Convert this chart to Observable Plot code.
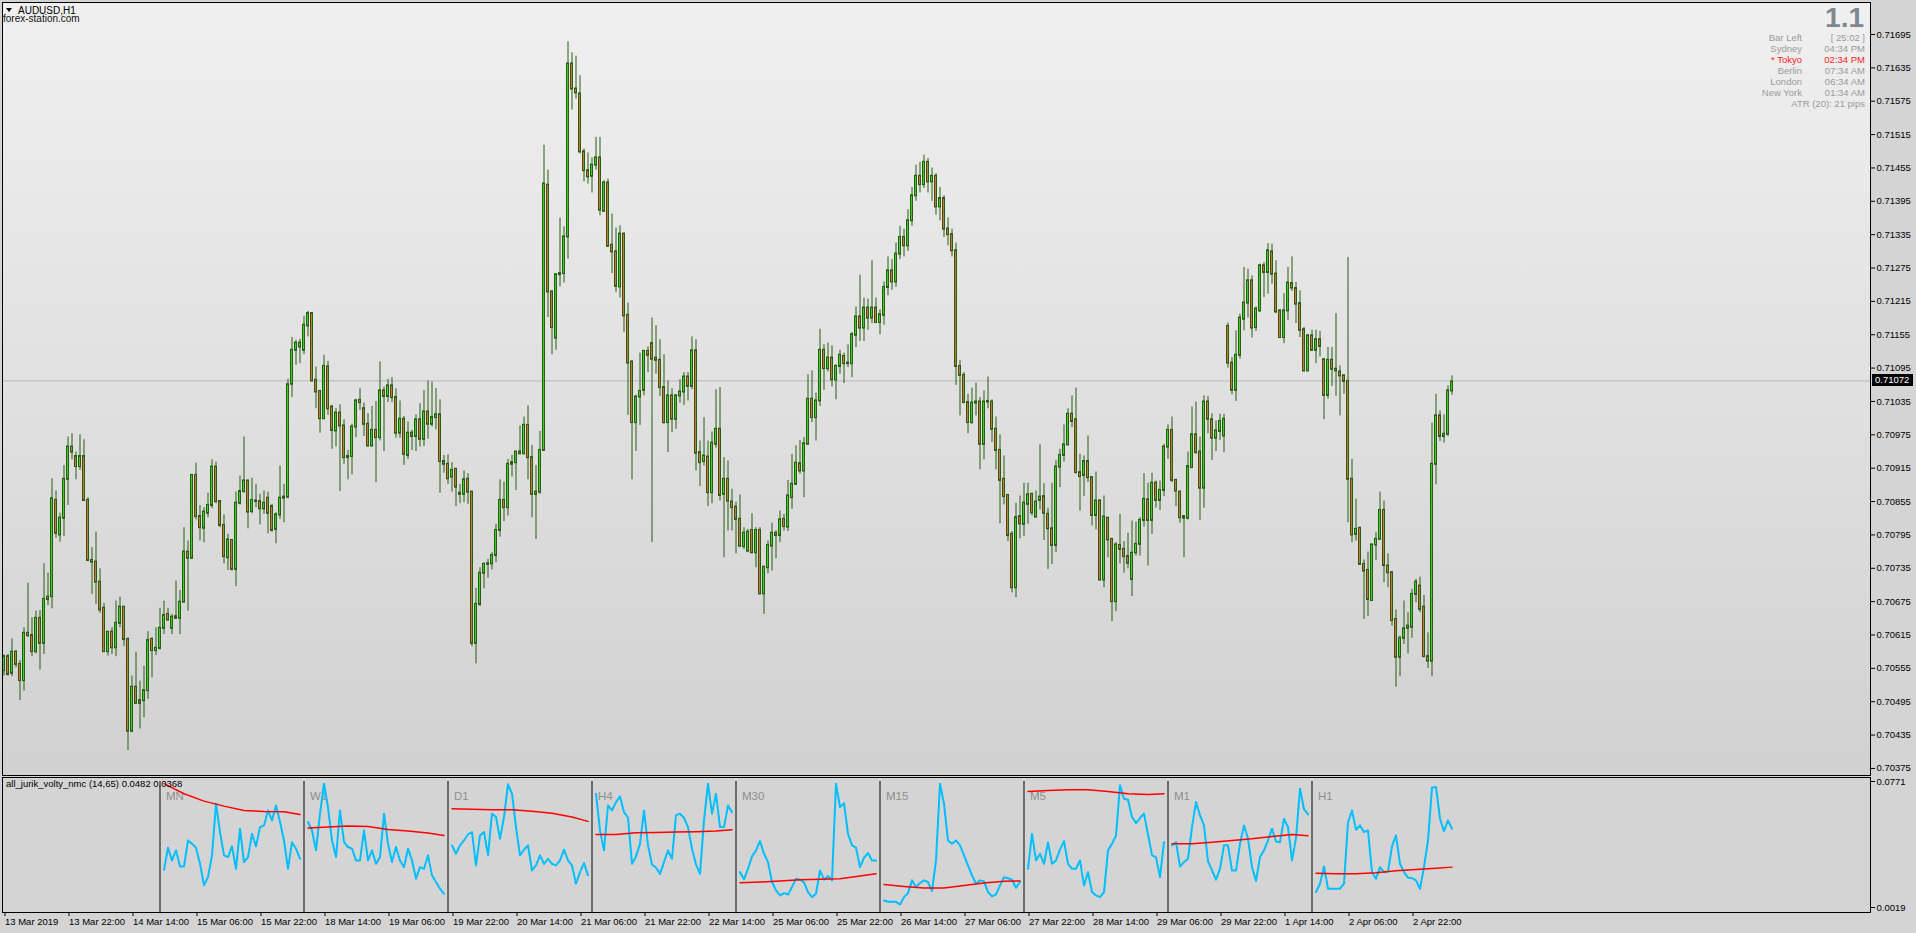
<!DOCTYPE html>
<html><head><meta charset="utf-8">
<script src="https://cdn.jsdelivr.net/npm/d3@7"></script>
<script src="https://cdn.jsdelivr.net/npm/@observablehq/plot@0.6"></script>
<style>
html,body{margin:0;padding:0;background:#d4d4d4;width:1916px;height:933px;overflow:hidden;font-family:"Liberation Sans",Arial,sans-serif;}
#wrap{position:relative;width:1916px;height:933px;}
#bg{position:absolute;left:2px;top:2px;width:1868px;height:773px;background:linear-gradient(#f0f0f0,#d1d1d1);}
#main{position:absolute;left:0;top:0;}
#ind{position:absolute;left:0;top:775px;}
.ov{position:absolute;white-space:nowrap;line-height:1;}
.tri{display:inline-block;width:0;height:0;border-left:3px solid transparent;border-right:3px solid transparent;border-top:4px solid #000;margin-right:6px;vertical-align:2px;}
.row{position:absolute;font-size:9.5px;color:#9a9a9a;line-height:1;white-space:nowrap;}
</style>
</head><body>
<div id="wrap">
  <div id="bg"></div>
  <div id="main"></div>
  <div id="ind"></div>
</div>
<script>
// ---------- DATA ----------
const symbol = "AUDUSD,H1";
const site = "forex-station.com";
const lastPrice = 0.71072;
const indicatorTitle = "all_jurik_volty_nmc (14,65) 0.0482 0.0368";

const O = [.70551,.70576,.70546,.70584,.70562,.70533,.70618,.70614,.70585,.70645,
.70600,.70683,.70684,.70857,.70795,.70825,.70895,.70953,.70936,.70918,
.70936,.70857,.70749,.70746,.70710,.70663,.70585,.70620,.70592,.70636,
.70665,.70607,.70442,.70521,.70497,.70497,.70515,.70607,.70587,.70591,
.70627,.70652,.70627,.70648,.70645,.70674,.70764,.70753,.70902,.70828,
.70807,.70834,.70848,.70917,.70855,.70812,.70754,.70785,.70733,.70852,
.70873,.70892,.70837,.70856,.70855,.70842,.70861,.70846,.70805,.70831,
.70861,.70863,.71066,.71127,.71133,.71127,.71171,.71193,.71073,.71053,
.71004,.71097,.71025,.70982,.71014,.70991,.70936,.70936,.70989,.71037,
.71022,.70994,.70955,.70983,.70970,.71054,.71044,.71063,.71042,.70978,
.71003,.70938,.70978,.70972,.71002,.70967,.71016,.70994,.71006,.71011,
.70927,.70922,.70899,.70913,.70870,.70868,.70895,.70872,.70600,.70670,
.70726,.70742,.70743,.70758,.70803,.70857,.70844,.70922,.70925,.70944,
.70941,.70992,.70934,.70868,.70872,.70947,.71424,.71232,.71149,.71263,
.71265,.71331,.71642,.71597,.71588,.71484,.71450,.71440,.71460,.71473,
.71377,.71428,.71316,.71304,.71241,.71336,.71190,.71106,.70997,.71043,
.71055,.71125,.71139,.71113,.71109,.71060,.70997,.71045,.71003,.71045,
.71052,.71079,.71062,.71126,.70943,.70927,.70935,.70871,.70958,.70985,
.70868,.70895,.70854,.70845,.70823,.70774,.70766,.70803,.70763,.70803,
.70689,.70736,.70775,.70798,.70794,.70823,.70809,.70862,.70886,.70923,
.70910,.70958,.71039,.71006,.71036,.71127,.71094,.71113,.71074,.71098,
.71116,.71103,.71103,.71154,.71187,.71167,.71203,.71185,.71203,.71177,
.71190,.71240,.71270,.71250,.71300,.71330,.71315,.71360,.71405,.71440,
.71425,.71465,.71430,.71440,.71385,.71400,.71345,.71335,.71306,.71098,
.71082,.71033,.70997,.71032,.71034,.70958,.71034,.71034,.70985,.70947,
.70895,.70866,.70796,.70700,.70828,.70814,.70850,.70868,.70827,.70857,
.70864,.70832,.70806,.70776,.70917,.70938,.70957,.71012,.71002,.70907,
.70902,.70927,.70898,.70830,.70856,.70714,.70825,.70787,.70675,.70776,
.70769,.70756,.70715,.70763,.70778,.70821,.70858,.70821,.70888,.70857,
.70875,.70953,.70983,.70893,.70872,.70828,.70825,.70916,.70975,.70944,
.70879,.71034,.71002,.70969,.70981,.70973,.71170,.71104,.71055,.71118,
.71183,.71212,.71252,.71168,.71198,.71279,.71267,.71304,.71264,.71198,
.71150,.71198,.71247,.71238,.71211,.71164,.71090,.71153,.71127,.71146,
.71110,.71046,.71109,.71093,.71088,.71081,.71071,.70895,.70796,.70807,
.70742,.70731,.70677,.70777,.70787,.70839,.70739,.70727,.70643,.70575,
.70609,.70627,.70629,.70688,.70703,.70665,.70576,.70568,.70922,.71009,
.70972,.70976,.71054];

const H = [.70579,.70580,.70608,.70587,.70569,.70628,.70708,.70646,.70658,.70659,
.70743,.70726,.70896,.70874,.70834,.70920,.70971,.70977,.70944,.70975,
.70966,.70862,.70772,.70800,.70734,.70672,.70620,.70628,.70676,.70683,
.70666,.70610,.70541,.70584,.70532,.70559,.70621,.70610,.70628,.70663,
.70676,.70663,.70652,.70712,.70695,.70808,.70784,.70902,.70924,.70848,
.70844,.70870,.70930,.70926,.70856,.70831,.70796,.70785,.70872,.70901,
.70971,.70892,.70897,.70886,.70868,.70874,.70872,.70850,.70835,.70919,
.70886,.71075,.71150,.71145,.71147,.71188,.71197,.71195,.71097,.71055,
.71118,.71107,.71028,.71022,.71029,.71002,.70947,.70994,.71039,.71058,
.71032,.71013,.71026,.71035,.71106,.71061,.71075,.71078,.71058,.71036,
.71008,.70998,.70983,.71011,.71031,.71055,.71072,.71070,.71058,.71038,
.70938,.70939,.70925,.70914,.70886,.70910,.70905,.70873,.70699,.70736,
.70745,.70751,.70763,.70814,.70894,.70890,.70931,.70938,.70945,.70991,
.71007,.71027,.70956,.70920,.70981,.71496,.71451,.71234,.71264,.71365,
.71349,.71682,.71662,.71656,.71621,.71489,.71482,.71473,.71510,.71510,
.71432,.71435,.71372,.71347,.71351,.71338,.71212,.71108,.71046,.71122,
.71127,.71133,.71185,.71171,.71146,.71119,.71072,.71058,.71047,.71074,
.71087,.71087,.71151,.71146,.70964,.71006,.70964,.70980,.71056,.71060,
.70934,.70928,.70877,.70854,.70867,.70808,.70805,.70833,.70808,.70808,
.70738,.70784,.70816,.70802,.70838,.70832,.70893,.70940,.70955,.70965,
.70970,.71083,.71090,.71050,.71165,.71137,.71140,.71135,.71101,.71127,
.71122,.71137,.71159,.71205,.71262,.71221,.71219,.71288,.71221,.71200,
.71250,.71295,.71290,.71320,.71350,.71345,.71380,.71420,.71460,.71465,
.71478,.71472,.71455,.71445,.71420,.71405,.71365,.71345,.71320,.71109,
.71087,.71048,.71059,.71068,.71042,.71054,.71079,.71038,.71007,.70975,
.70937,.70866,.70801,.70852,.70865,.70888,.70888,.70870,.70874,.70957,
.70887,.70843,.70888,.70929,.70949,.70993,.71022,.71045,.71059,.70940,
.70937,.70973,.70898,.70908,.70858,.70865,.70826,.70788,.70781,.70832,
.70783,.70798,.70820,.70818,.70826,.70905,.70888,.70906,.70892,.70892,
.70958,.70993,.71007,.70895,.70874,.70829,.70944,.71025,.71034,.70971,
.71045,.71044,.71013,.71000,.71012,.71012,.71176,.71114,.71162,.71192,
.71276,.71273,.71261,.71205,.71282,.71285,.71319,.71318,.71288,.71198,
.71229,.71276,.71295,.71249,.71234,.71168,.71155,.71163,.71163,.71161,
.71112,.71132,.71132,.71193,.71099,.71083,.71294,.70931,.70859,.70808,
.70750,.70764,.70778,.70799,.70872,.70856,.70761,.70729,.70660,.70613,
.70676,.70655,.70697,.70715,.70719,.70686,.70619,.70996,.71048,.71018,
.71011,.71063,.71081];

const L = [.70541,.70541,.70540,.70556,.70497,.70514,.70610,.70576,.70581,.70552,
.70580,.70668,.70662,.70789,.70782,.70792,.70848,.70930,.70894,.70911,
.70855,.70748,.70688,.70670,.70654,.70585,.70577,.70580,.70576,.70628,
.70594,.70407,.70439,.70492,.70446,.70466,.70499,.70538,.70578,.70588,
.70616,.70640,.70616,.70644,.70616,.70674,.70658,.70751,.70822,.70784,
.70781,.70826,.70842,.70851,.70808,.70743,.70731,.70730,.70702,.70849,
.70870,.70806,.70833,.70844,.70813,.70832,.70797,.70800,.70779,.70823,
.70817,.70860,.71042,.71100,.71103,.71119,.71151,.71070,.71022,.70978,
.71003,.71010,.70949,.70953,.70873,.70922,.70894,.70903,.70970,.71019,
.70972,.70953,.70953,.70889,.70964,.70945,.71033,.71033,.70969,.70969,
.70920,.70931,.70947,.70945,.70953,.70954,.70967,.70989,.70984,.70870,
.70906,.70886,.70872,.70846,.70851,.70853,.70850,.70594,.70563,.70666,
.70698,.70717,.70732,.70745,.70791,.70819,.70829,.70899,.70875,.70939,
.70939,.70894,.70826,.70787,.70868,.70945,.71186,.71119,.71127,.71241,
.71248,.71291,.71559,.71579,.71480,.71430,.71426,.71410,.71451,.71369,
.71375,.71314,.71265,.71231,.71221,.71159,.71010,.70894,.70945,.70992,
.71045,.71087,.70781,.71084,.71044,.70994,.70943,.70979,.70985,.71032,
.71028,.71036,.71056,.70910,.70882,.70919,.70846,.70851,.70951,.70856,
.70754,.70802,.70802,.70761,.70772,.70769,.70763,.70761,.70736,.70687,
.70652,.70725,.70730,.70752,.70781,.70802,.70801,.70841,.70884,.70904,
.70862,.70957,.70997,.70964,.71026,.71055,.71088,.71061,.71038,.71084,
.71067,.71096,.71078,.71132,.71143,.71143,.71163,.71175,.71175,.71155,
.71172,.71225,.71235,.71240,.71290,.71295,.71305,.71350,.71395,.71410,
.71418,.71410,.71395,.71370,.71360,.71330,.71315,.71295,.71064,.71009,
.71031,.70977,.70994,.71009,.70912,.70930,.71022,.70961,.70912,.70815,
.70849,.70783,.70691,.70682,.70788,.70792,.70814,.70829,.70826,.70840,
.70785,.70733,.70742,.70763,.70880,.70926,.70955,.70988,.70905,.70838,
.70864,.70889,.70811,.70804,.70712,.70700,.70754,.70639,.70657,.70743,
.70726,.70734,.70684,.70757,.70757,.70809,.70739,.70796,.70843,.70839,
.70864,.70931,.70889,.70846,.70816,.70754,.70822,.70915,.70940,.70821,
.70843,.70977,.70929,.70945,.70965,.70943,.71095,.71047,.71035,.71111,
.71162,.71185,.71149,.71161,.71195,.71222,.71228,.71246,.71193,.71150,
.71139,.71181,.71233,.71175,.71150,.71088,.71089,.71125,.71103,.71115,
.71002,.71039,.71062,.71044,.71009,.71048,.70817,.70781,.70784,.70740,
.70643,.70648,.70676,.70749,.70787,.70709,.70700,.70631,.70521,.70540,
.70598,.70581,.70609,.70673,.70655,.70575,.70555,.70540,.70885,.70963,
.70960,.70972,.71046];

const C = [.70576,.70544,.70584,.70562,.70533,.70618,.70614,.70585,.70645,.70600,
.70679,.70679,.70860,.70798,.70825,.70895,.70953,.70944,.70918,.70936,
.70857,.70749,.70746,.70710,.70660,.70585,.70620,.70592,.70636,.70665,
.70607,.70442,.70521,.70492,.70492,.70515,.70605,.70587,.70591,.70627,
.70650,.70642,.70647,.70645,.70674,.70764,.70753,.70902,.70828,.70808,
.70836,.70848,.70917,.70855,.70812,.70756,.70786,.70733,.70852,.70873,
.70892,.70836,.70857,.70855,.70842,.70852,.70834,.70803,.70831,.70861,
.70863,.71065,.71127,.71140,.71140,.71172,.71193,.71072,.71052,.71004,
.71098,.71022,.70983,.71014,.70991,.70934,.70934,.70989,.71036,.71033,
.70994,.70955,.70983,.70970,.71054,.71044,.71063,.71042,.70978,.71003,
.70940,.70978,.70972,.71002,.70967,.71016,.70994,.71006,.71011,.70927,
.70922,.70896,.70911,.70881,.70868,.70894,.70872,.70600,.70670,.70726,
.70742,.70743,.70758,.70803,.70857,.70844,.70922,.70925,.70944,.70941,
.70992,.70934,.70868,.70872,.70947,.71426,.71232,.71168,.71263,.71265,
.71331,.71642,.71597,.71590,.71484,.71450,.71439,.71460,.71473,.71379,
.71428,.71314,.71304,.71242,.71336,.71189,.71104,.70997,.71043,.71053,
.71125,.71118,.71111,.71109,.71060,.70997,.71045,.71003,.71045,.71052,
.71079,.71062,.71126,.70942,.70925,.70937,.70871,.70960,.70985,.70866,
.70895,.70856,.70844,.70823,.70775,.70798,.70800,.70763,.70803,.70689,
.70737,.70776,.70798,.70794,.70822,.70810,.70865,.70886,.70924,.70910,
.70959,.71039,.71006,.71036,.71127,.71094,.71113,.71074,.71098,.71118,
.71103,.71104,.71155,.71187,.71167,.71203,.71185,.71203,.71177,.71191,
.71240,.71270,.71250,.71300,.71330,.71315,.71360,.71405,.71440,.71425,
.71465,.71430,.71440,.71385,.71400,.71345,.71335,.71306,.71098,.71082,
.71033,.70997,.71032,.71034,.70958,.71034,.71035,.70985,.70947,.70893,
.70864,.70794,.70700,.70826,.70815,.70852,.70867,.70835,.70854,.70863,
.70834,.70806,.70776,.70917,.70938,.70957,.71012,.70999,.70907,.70900,
.70927,.70898,.70830,.70856,.70714,.70827,.70786,.70675,.70777,.70769,
.70756,.70744,.70762,.70778,.70821,.70859,.70821,.70888,.70857,.70875,
.70953,.70983,.70893,.70874,.70826,.70825,.70918,.70975,.70943,.70879,
.71034,.71003,.70969,.70982,.70999,.71003,.71104,.71055,.71118,.71185,
.71212,.71252,.71167,.71201,.71279,.71267,.71306,.71264,.71196,.71150,
.71198,.71248,.71239,.71210,.71163,.71090,.71153,.71127,.71146,.71134,
.71046,.71109,.71093,.71090,.71081,.71071,.70895,.70795,.70805,.70742,
.70730,.70679,.70777,.70787,.70839,.70740,.70727,.70641,.70575,.70609,
.70626,.70631,.70688,.70710,.70661,.70576,.70568,.70922,.71009,.70972,
.70976,.71054,.71070];

const priceTicks = [0.70375,0.70435,0.70495,0.70555,0.70615,0.70675,0.70735,0.70795,0.70855,0.70915,0.70975,
  0.71035,0.71095,0.71155,0.71215,0.71275,0.71335,0.71395,0.71455,0.71515,0.71575,0.71635,0.71695];

const tickBars = [0,16,32,48,64,80,96,112,128,144,160,176,192,208,224,240,256,272,288,304,320,336,352];
const tickLabels = ["13 Mar 2019","13 Mar 22:00","14 Mar 14:00","15 Mar 06:00","15 Mar 22:00","18 Mar 14:00",
  "19 Mar 06:00","19 Mar 22:00","20 Mar 14:00","21 Mar 06:00","21 Mar 22:00","22 Mar 14:00","25 Mar 06:00",
  "25 Mar 22:00","26 Mar 14:00","27 Mar 06:00","27 Mar 22:00","28 Mar 14:00","29 Mar 06:00","29 Mar 22:00",
  "1 Apr 14:00","2 Apr 06:00","2 Apr 22:00"];

// indicator sub-panels
const panelNames = ["MN","W1","D1","H4","M30","M15","M5","M1","H1"];
const panelStarts = [40,76,112,148,184,220,256,292,328];
const indTicks = [0.0019, 0.0771];

const cyanMN = [.0244,.0376,.0300,.0360,.0264,.0264,.0419,.0399,.0376,.0280,.0151,.0200,.0330,.0638,.0469,.0330,.0320,.0384,.0250,.0489,.0290,.0320,.0459,.0384,.0499,.0509,.0598,.0539,.0628,.0529,.0419,.0250,.0409,.0370,.0310];
const cyanW1 = [.0529,.0479,.0360,.0579,.0758,.0618,.0419,.0320,.0598,.0409,.0380,.0370,.0300,.0300,.0479,.0300,.0360,.0280,.0320,.0579,.0399,.0290,.0380,.0300,.0260,.0370,.0300,.0191,.0260,.0250,.0330,.0211,.0171,.0131,.0101];
const cyanD1 = [.0390,.0340,.0390,.0419,.0455,.0469,.0270,.0449,.0469,.0330,.0579,.0559,.0429,.0559,.0754,.0698,.0499,.0330,.0364,.0390,.0240,.0270,.0330,.0280,.0310,.0280,.0270,.0300,.0364,.0300,.0270,.0161,.0230,.0284,.0211];
const cyanH4 = [.0698,.0479,.0360,.0628,.0598,.0648,.0682,.0588,.0555,.0280,.0324,.0399,.0598,.0390,.0276,.0256,.0220,.0290,.0360,.0310,.0569,.0579,.0555,.0499,.0370,.0276,.0220,.0539,.0758,.0579,.0698,.0499,.0499,.0628,.0588];
const cyanM30 = [.0230,.0187,.0250,.0324,.0360,.0415,.0340,.0290,.0171,.0121,.0091,.0105,.0097,.0141,.0191,.0185,.0169,.0111,.0081,.0101,.0240,.0185,.0207,.0181,.0758,.0618,.0642,.0459,.0390,.0376,.0260,.0316,.0344,.0300,.0300];
const cyanM15 = [.0061,.0053,.0053,.0053,.0037,.0081,.0105,.0181,.0141,.0165,.0181,.0171,.0117,.0300,.0758,.0638,.0419,.0399,.0419,.0390,.0330,.0270,.0211,.0161,.0181,.0175,.0111,.0085,.0097,.0151,.0200,.0194,.0185,.0137,.0171];
const cyanM5 = [.0250,.0459,.0300,.0340,.0280,.0409,.0280,.0300,.0364,.0415,.0280,.0250,.0250,.0300,.0151,.0230,.0111,.0091,.0081,.0111,.0360,.0399,.0449,.0748,.0668,.0662,.0559,.0523,.0553,.0579,.0455,.0330,.0320,.0200,.0409];
const cyanM1 = [.0390,.0409,.0264,.0290,.0310,.0499,.0648,.0569,.0509,.0296,.0240,.0185,.0250,.0390,.0390,.0240,.0240,.0399,.0509,.0429,.0260,.0177,.0320,.0360,.0419,.0489,.0413,.0409,.0549,.0499,.0300,.0435,.0728,.0606,.0575];
const cyanH1 = [.0111,.0161,.0264,.0131,.0131,.0131,.0131,.0161,.0529,.0598,.0483,.0509,.0469,.0479,.0230,.0191,.0260,.0230,.0234,.0384,.0449,.0280,.0230,.0197,.0195,.0181,.0131,.0260,.0419,.0734,.0738,.0549,.0475,.0539,.0489];

const redSteps = [0,5,10,15,20,25,30,34];
const redMN = [.0758,.0698,.0654,.0624,.0598,.0592,.0590,.0574];
const redW1 = [.0493,.0499,.0505,.0503,.0485,.0475,.0463,.0449];
const redD1 = [.0608,.0606,.0602,.0602,.0594,.0582,.0559,.0533];
const redH4 = [.0455,.0455,.0465,.0467,.0469,.0471,.0475,.0483];
const redM30 = [.0167,.0171,.0177,.0185,.0187,.0191,.0207,.0220];
const redM15 = [.0157,.0145,.0135,.0135,.0151,.0165,.0175,.0177];
const redM5 = [.0712,.0718,.0722,.0722,.0712,.0698,.0694,.0698];
const redM1 = [.0399,.0399,.0409,.0419,.0429,.0443,.0455,.0447];
const redH1 = [.0224,.0220,.0220,.0226,.0238,.0246,.0254,.0260];

// ---------- BUILD ----------
const FONT = '"Liberation Sans", Arial, sans-serif';
const candles = O.map((o, i) => ({i, o, h: H[i], l: L[i], c: C[i]}));
const BULL = "#3ccf2a", BEAR = "#d8703a", OUTLINE = "#285c12";
const xDomain = [-0.375, 466.625];

const main = Plot.plot({
  width: 1916, height: 776,
  marginLeft: 2, marginRight: 46, marginTop: 2, marginBottom: 1,
  x: {domain: xDomain, axis: null},
  y: {domain: [0.703623, 0.7175255], axis: null},
  style: {background: "transparent", fontFamily: FONT, fontSize: "9.5px", color: "#000", overflow: "visible"},
  marks: [
    Plot.ruleY([lastPrice], {stroke: "#b9b9b9", strokeWidth: 1}),
    Plot.ruleX(candles, {x: "i", y1: "l", y2: "h", stroke: OUTLINE, strokeWidth: 1}),
    Plot.rect(candles, {
      x1: d => d.i - 0.25, x2: d => d.i + 0.25, y1: "o", y2: "c",
      fill: d => d.c >= d.o ? BULL : BEAR, stroke: OUTLINE, strokeWidth: 1,
      insetTop: -0.5, insetBottom: -0.5
    }),
    Plot.axisY({anchor: "right", label: null, ticks: priceTicks, tickFormat: d3.format(".5f"), tickSize: 4, tickPadding: 2, fill: "#000", stroke: "#000"}),
    Plot.frame({stroke: "#000"})
  ]
});
document.getElementById("main").appendChild(main);

const cyanSets = [cyanMN, cyanW1, cyanD1, cyanH4, cyanM30, cyanM15, cyanM5, cyanM1, cyanH1];
const redSets = [redMN, redW1, redD1, redH4, redM30, redM15, redM5, redM1, redH1];
const cyanData = cyanSets.flatMap((arr, p) => arr.map((v, k) => ({p, x: panelStarts[p] + k, v})));
const redData = redSets.flatMap((arr, p) => arr.map((v, k) => ({p, x: panelStarts[p] + redSteps[k], v})));
const labelByBar = new Map(tickBars.map((b, i) => [b, tickLabels[i]]));
const yBottom = -0.00108, yTop = 0.07949;

const ind = Plot.plot({
  width: 1916, height: 158,
  marginLeft: 2, marginRight: 46, marginTop: 2, marginBottom: 21,
  x: {domain: xDomain, axis: null, label: null},
  y: {domain: [yBottom, yTop], axis: null, label: null},
  style: {background: "transparent", fontFamily: FONT, fontSize: "9.5px", color: "#000", overflow: "visible"},
  marks: [
    Plot.ruleX(panelStarts, {x: d => d - 1, y1: yBottom, y2: indTicks[1], stroke: "#6e6e6e", strokeWidth: 2}),
    Plot.text(panelNames, {x: (d, i) => panelStarts[i] - 1, frameAnchor: "top", dy: 14, dx: 6, textAnchor: "start", fill: "#8e8e8e", fontSize: 11.5}),
    Plot.line(cyanData, {x: "x", y: "v", z: "p", stroke: "#00bfff", strokeWidth: 2}),
    Plot.line(redData, {x: "x", y: "v", z: "p", stroke: "#ff0000", strokeWidth: 1.5}),
    Plot.axisY({anchor: "right", label: null, ticks: indTicks, tickFormat: d3.format(".4f"), tickSize: 4, tickPadding: 2, fill: "#000", stroke: "#000"}),
    Plot.axisX({anchor: "bottom", label: null, ticks: tickBars, tickFormat: d => labelByBar.get(d), tickSize: 4, tickPadding: 2, textAnchor: "start", dx: 1, fill: "#000", stroke: "#000"}),
    Plot.frame({stroke: "#000"})
  ]
});
document.getElementById("ind").appendChild(ind);

// ---------- OVERLAYS ----------
const wrap = document.getElementById("wrap");
function ov(text, css) {
  const d = document.createElement("div");
  d.className = "ov";
  d.textContent = text;
  Object.assign(d.style, css);
  wrap.appendChild(d);
  return d;
}
const hdr = document.createElement("div");
hdr.className = "ov";
Object.assign(hdr.style, {left: "6px", top: "6px", fontSize: "10px", color: "#000"});
const tri = document.createElement("span"); tri.className = "tri";
hdr.appendChild(tri);
hdr.appendChild(document.createTextNode(symbol));
wrap.appendChild(hdr);
ov(site, {left: "3px", top: "14px", fontSize: "10px", color: "#111"});

const yPx = main.scale("y").apply(lastPrice);
ov(d3.format(".5f")(lastPrice), {left: "1872px", top: (yPx - 6) + "px", width: "41px", height: "12px", lineHeight: "12px",
  background: "#000", color: "#fff", fontSize: "9.5px", paddingLeft: "3px", boxSizing: "border-box"});

ov(indicatorTitle, {left: "6px", top: "779px", fontSize: "9.5px", color: "#000"});

const infoLabels = ["Bar Left","Sydney","* Tokyo","Berlin","London","New York"];
const infoValues = ["[ 25:02 ]","04:34 PM","02:34 PM","07:34 AM","06:34 AM","01:34 AM"];
const infoRed = [false,false,true,false,false,false];
const atrText = "ATR (20): 21 pips";
const bigNum = "1.1";
ov(bigNum, {right: (1916 - 1864) + "px", top: "4px", fontSize: "28px", fontWeight: "bold", color: "#7d8893"});
infoLabels.forEach((t, i) => {
  const top = 33 + i * 11;
  const col = infoRed[i] ? "#ff2020" : "#9a9a9a";
  const a = document.createElement("div"); a.className = "row"; a.textContent = t;
  Object.assign(a.style, {right: (1916 - 1802) + "px", top: top + "px", color: col}); wrap.appendChild(a);
  const b = document.createElement("div"); b.className = "row"; b.textContent = infoValues[i];
  Object.assign(b.style, {right: (1916 - 1865) + "px", top: top + "px", color: col}); wrap.appendChild(b);
});
const atr = document.createElement("div"); atr.className = "row"; atr.textContent = atrText;
Object.assign(atr.style, {right: (1916 - 1865) + "px", top: (33 + 6 * 11) + "px"}); wrap.appendChild(atr);
</script>
</body></html>
